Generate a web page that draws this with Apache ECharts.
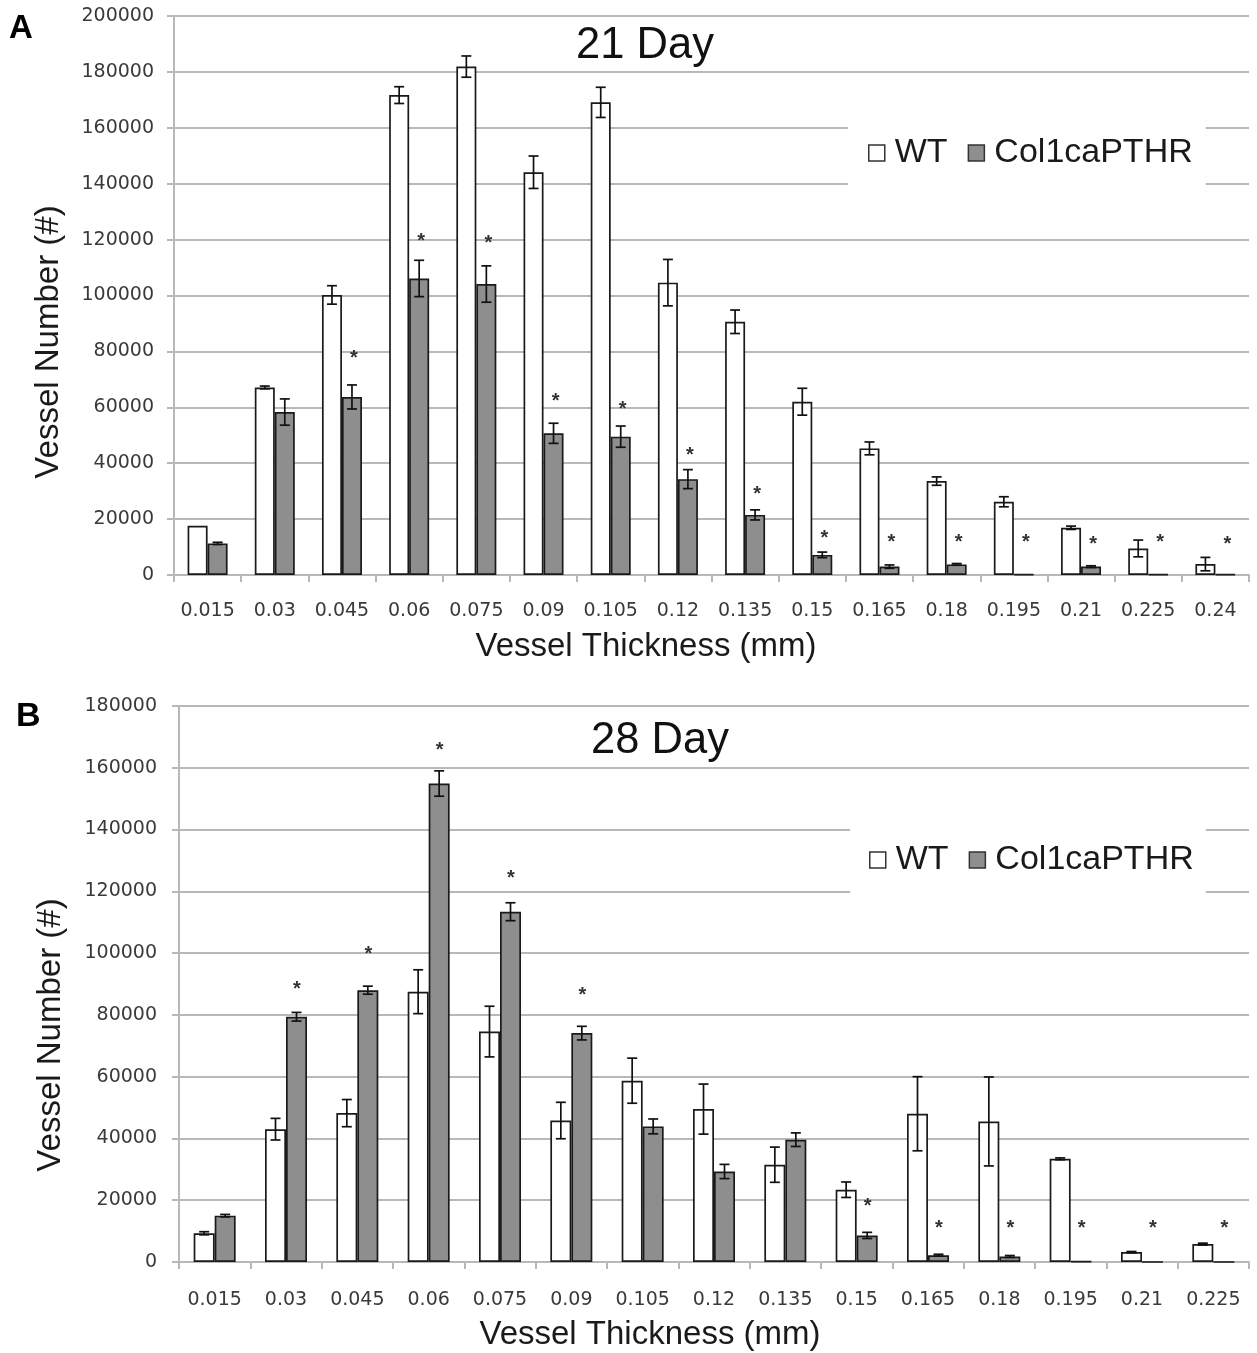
<!DOCTYPE html>
<html>
<head>
<meta charset="utf-8">
<script src="https://cdn.jsdelivr.net/npm/echarts@6/dist/echarts.min.js"></script>
<style>
html,body{margin:0;padding:0;background:#fff;}
#c{width:1257px;height:1353px;}
</style>
</head>
<body>
<div id="c"></div>
<script>
// ---- Panel A: 21 Day ----
const cats21 = ['0.015','0.03','0.045','0.06','0.075','0.09','0.105','0.12','0.135','0.15','0.165','0.18','0.195','0.21','0.225','0.24'];
const wt21 = [17600, 67100, 100200, 171700, 181900, 144100, 169100, 104600, 90600, 62000, 45300, 33600, 26200, 16900, 9500, 3900];
const wt21Err = [0, 500, 3300, 3000, 3800, 5800, 5400, 8300, 4200, 4800, 2300, 1500, 1800, 600, 3000, 2400];
const col21 = [11300, 58300, 63700, 106100, 104100, 50700, 49500, 34300, 21500, 7200, 3000, 3800, 200, 3000, 200, 200];
const col21Err = [400, 4700, 4300, 6500, 6500, 3600, 3800, 3400, 1800, 1000, 600, 300, 0, 300, 0, 0];
const star21 = [null, null, 79000, 120600, 119900, 63400, 60500, 44100, 30200, 14600, 12900, 12900, 12900, 12200, 12900, 12200];

// ---- Panel B: 28 Day ----
const cats28 = ['0.015','0.03','0.045','0.06','0.075','0.09','0.105','0.12','0.135','0.15','0.165','0.18','0.195','0.21','0.225'];
const wt28 = [9300, 43000, 48200, 87500, 74600, 45800, 58700, 49500, 31500, 23400, 48000, 45500, 33400, 3200, 5800];
const wt28Err = [500, 3500, 4400, 7100, 8200, 5900, 7300, 8100, 5700, 2500, 12000, 14400, 300, 200, 300];
const col28 = [15000, 79400, 88000, 154900, 113400, 74100, 43900, 29300, 39600, 8600, 2200, 1800, 200, 0, 0];
const col28Err = [400, 1400, 1300, 4100, 2900, 2200, 2400, 2300, 2200, 1000, 300, 300, 0, 0, 0];
const star28 = [null, 89400, 101000, 167000, 125500, 87500, null, null, null, 19400, 12100, 12100, 12100, 12100, 12100];

const yTicks21 = {min: 0, max: 200000, interval: 20000};
const yTicks28 = {min: 0, max: 180000, interval: 20000};

const LBL = '"DejaVu Sans", sans-serif';
const TXT = '"Liberation Sans", Arial, sans-serif';
const GRID_COLOR = '#b8b8b8';

function errSeries(vals, errs, off, xi, yi) {
  return {
    type: 'custom', xAxisIndex: xi, yAxisIndex: yi, z: 10, silent: true,
    data: vals.map((v, i) => [i, v, errs[i]]),
    renderItem: function (params, api) {
      const i = api.value(0), v = api.value(1), e = api.value(2);
      if (!e) return null;
      const x = api.coord([i, v])[0] + off;
      const yt = api.coord([i, v + e])[1];
      const yb = api.coord([i, Math.max(0, v - e)])[1];
      const cap = 5;
      const st = {stroke: '#111', lineWidth: 1.7};
      return {type: 'group', children: [
        {type: 'line', shape: {x1: x, y1: yt, x2: x, y2: yb}, style: st},
        {type: 'line', shape: {x1: x - cap, y1: yt, x2: x + cap, y2: yt}, style: st},
        {type: 'line', shape: {x1: x - cap, y1: yb, x2: x + cap, y2: yb}, style: st}
      ]};
    }
  };
}
function starSeries(stars, off, xi, yi) {
  return {
    type: 'custom', xAxisIndex: xi, yAxisIndex: yi, z: 11, silent: true,
    data: stars.map((v, i) => [i, v == null ? '-' : v]),
    renderItem: function (params, api) {
      const v = api.value(1);
      if (v == null || isNaN(v)) return null;
      const p = api.coord([api.value(0), v]);
      return {type: 'text', x: p[0] + off, y: p[1] + 4,
        style: {text: '*', fill: '#333', font: 'bold 20px ' + TXT, align: 'center', verticalAlign: 'middle'}};
    }
  };
}
function xAx(cats, gi, margin) {
  return {
    type: 'category', gridIndex: gi, data: cats, boundaryGap: true,
    axisLine: {show: true, lineStyle: {color: GRID_COLOR, width: 2}},
    axisTick: {show: true, length: 7, lineStyle: {color: GRID_COLOR, width: 2}},
    axisLabel: {interval: 0, margin: margin, color: '#3a3a3a', fontFamily: LBL, fontSize: 19},
    splitLine: {show: false}
  };
}
function yAx(t, gi, margin) {
  return {
    type: 'value', gridIndex: gi, min: t.min, max: t.max, interval: t.interval,
    axisLine: {show: true, lineStyle: {color: GRID_COLOR, width: 2}},
    axisTick: {show: true, length: 7, lineStyle: {color: GRID_COLOR, width: 2}},
    axisLabel: {margin: margin, color: '#3a3a3a', fontFamily: LBL, fontSize: 19, formatter: (v) => String(v)},
    splitLine: {show: true, lineStyle: {color: GRID_COLOR, width: 2}}
  };
}
const wtStyle = {color: '#ffffff', borderColor: '#1a1a1a', borderWidth: 1.7};
const colStyle = {color: '#8e8e8e', borderColor: '#1a1a1a', borderWidth: 1.7};
function legend(top, left, pad) {
  return {
    top: top, left: left, orient: 'horizontal', backgroundColor: '#ffffff', padding: pad,
    itemWidth: 16, itemHeight: 16, itemGap: 20, icon: 'rect', selectedMode: false,
    textStyle: {fontFamily: TXT, fontSize: 34, color: '#1a1a1a', lineHeight: 40, padding: [0, 0, 0, 5]},
    data: [
      {name: 'WT', itemStyle: {color: '#ffffff', borderColor: '#333', borderWidth: 1.5}},
      {name: 'Col1caPTHR', itemStyle: {color: '#8e8e8e', borderColor: '#333', borderWidth: 1.5}}
    ]
  };
}

const chart = echarts.init(document.getElementById('c'), null, {renderer: 'canvas'});
chart.setOption({
  animation: false,
  backgroundColor: '#ffffff',
  grid: [
    {left: 174, right: 8, top: 16, bottom: 778, containLabel: false},
    {left: 179, right: 8, top: 706, bottom: 91, containLabel: false}
  ],
  title: [
    {text: '21 Day', left: 640, top: 19, textAlign: 'center', textStyle: {fontFamily: TXT, fontSize: 43.5, fontWeight: 'normal', color: '#111'}},
    {text: '28 Day', left: 655, top: 714, textAlign: 'center', textStyle: {fontFamily: TXT, fontSize: 43.5, fontWeight: 'normal', color: '#111'}}
  ],
  legend: [legend(118, 848, [15, 13, 15, 20]), legend(824, 850, [16, 12, 16, 19])],
  xAxis: [xAx(cats21, 0, 27), xAx(cats28, 1, 29)],
  yAxis: [yAx(yTicks21, 0, 20), yAx(yTicks28, 1, 22)],
  series: [
    {name: 'WT', type: 'bar', xAxisIndex: 0, yAxisIndex: 0, data: wt21, barWidth: 20, barGap: '0%', itemStyle: wtStyle},
    {name: 'Col1caPTHR', type: 'bar', xAxisIndex: 0, yAxisIndex: 0, data: col21, barWidth: 20, barGap: '0%', itemStyle: colStyle},
    errSeries(wt21, wt21Err, -10, 0, 0),
    errSeries(col21, col21Err, 10, 0, 0),
    starSeries(star21, 12, 0, 0),
    {name: 'WT', type: 'bar', xAxisIndex: 1, yAxisIndex: 1, data: wt28, barWidth: 21, barGap: '0%', itemStyle: wtStyle},
    {name: 'Col1caPTHR', type: 'bar', xAxisIndex: 1, yAxisIndex: 1, data: col28, barWidth: 21, barGap: '0%', itemStyle: colStyle},
    errSeries(wt28, wt28Err, -10.5, 1, 1),
    errSeries(col28, col28Err, 10.5, 1, 1),
    starSeries(star28, 11, 1, 1)
  ],
  graphic: [
    {type: 'text', x: 9, y: 12, style: {text: 'A', font: 'bold 33px ' + TXT, fill: '#000'}},
    {type: 'text', x: 16, y: 700, style: {text: 'B', font: 'bold 34px ' + TXT, fill: '#000'}},
    {type: 'text', x: 49, y: 342, rotation: Math.PI / 2, style: {text: 'Vessel Number (#)', font: '33px ' + TXT, fill: '#1a1a1a', align: 'center', verticalAlign: 'middle'}},
    {type: 'text', x: 51, y: 1035, rotation: Math.PI / 2, style: {text: 'Vessel Number (#)', font: '33px ' + TXT, fill: '#1a1a1a', align: 'center', verticalAlign: 'middle'}},
    {type: 'text', x: 646, y: 647, style: {text: 'Vessel Thickness (mm)', font: '33px ' + TXT, fill: '#1a1a1a', align: 'center', verticalAlign: 'middle'}},
    {type: 'text', x: 650, y: 1335, style: {text: 'Vessel Thickness (mm)', font: '33px ' + TXT, fill: '#1a1a1a', align: 'center', verticalAlign: 'middle'}}
  ]
});
</script>
</body>
</html>
